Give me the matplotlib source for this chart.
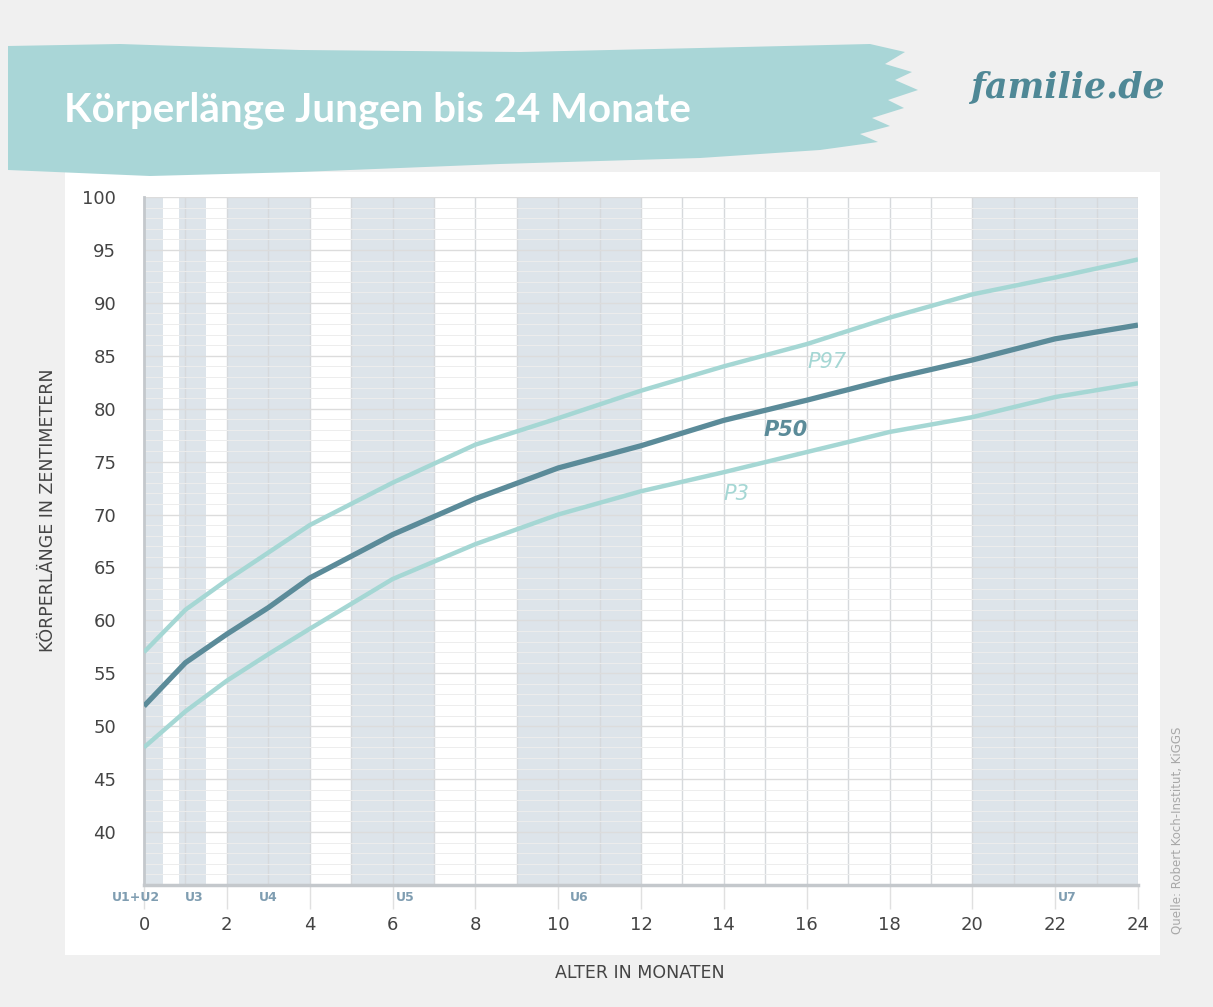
import matplotlib
matplotlib.use("Agg")
import matplotlib.pyplot as plt
from matplotlib.patches import Rectangle, Polygon

# data
months = [0, 1, 2, 3, 4, 6, 8, 10, 12, 14, 16, 18, 20, 22, 24]
p97 = [57.0, 61.0, 63.8, 66.4, 69.0, 73.0, 76.6, 79.1, 81.7, 84.0, 86.1, 88.6, 90.8, 92.4, 94.1]
p50 = [51.9, 56.0, 58.7, 61.2, 64.0, 68.1, 71.5, 74.4, 76.5, 78.9, 80.8, 82.8, 84.6, 86.6, 87.9]
p3 = [48.0, 51.4, 54.3, 56.8, 59.2, 63.9, 67.2, 70.0, 72.2, 74.0, 75.9, 77.8, 79.2, 81.1, 82.4]

# check-up (U) periods in months
u_names = ["U1+U2", "U3", "U4", "U5", "U6", "U7"]
u_start = [0, 0.85, 2, 5, 9, 20]
u_end = [0.45, 1.5, 4, 7, 12, 24]
u_label_x = [-0.2, 1.2, 3, 6.3, 10.5, 22.3]

BG = "#f0f0f0"
BAND = "#dde4ea"
LIGHT = "#a5d7d4"
DARK = "#5b8b99"
TXT = "#444444"

fig = plt.figure(figsize=(12.13, 10.07), dpi=100, facecolor=BG)
W, H = 1213, 1007

def px(x, y):
    return x / W, 1 - y / H

# white panel
x0, y1 = px(65, 172)
x1, y0 = px(1160, 955)
fig.patches.append(Rectangle((x0, y0), x1 - x0, y1 - y0, transform=fig.transFigure,
                             facecolor="white", edgecolor="none", zorder=-2))

# brush stroke behind the title
brush = [(8, 46), (120, 44), (300, 50), (520, 52), (700, 48), (870, 44), (905, 52), (885, 64),
         (912, 72), (895, 80), (918, 90), (888, 100), (904, 108), (872, 118), (890, 126),
         (860, 134), (878, 142), (820, 150), (700, 158), (500, 164), (300, 172),
         (150, 176), (8, 170)]
fig.patches.append(Polygon([px(a, b) for a, b in brush], closed=True, transform=fig.transFigure,
                           facecolor="#a9d6d7", edgecolor="none", zorder=-1))
fig.text(*px(64, 110), "Körperlänge Jungen bis 24 Monate", color="white", fontsize=29,
         fontweight="bold", family="Lato", va="center", ha="left")
fig.text(*px(1067, 88), "familie.de", color="#4f8896", fontsize=25, fontweight="bold",
         style="italic", family="DejaVu Serif", va="center", ha="center")

ax = fig.add_axes([144 / W, 1 - 885 / H, (1138 - 144) / W, (885 - 197) / H])
ax.set_zorder(2)
ax.set_facecolor("none")
ax.set_xlim(0, 24)
ax.set_ylim(35, 100)

for s, e in zip(u_start, u_end):
    ax.axvspan(s, e, color=BAND, lw=0, zorder=0)

for m in range(1, 25):
    ax.axvline(m, color="#d6d9dc", lw=1, zorder=1)
for v in range(35, 101):
    c = "#dcdcdc" if v % 5 == 0 else "#ededed"
    ax.axhline(v, color=c, lw=1 if v % 5 == 0 else 0.7, zorder=1)

ax.plot(months, p97, color=LIGHT, lw=3.2, zorder=3, solid_capstyle="butt")
ax.plot(months, p3, color=LIGHT, lw=3.2, zorder=3, solid_capstyle="butt")
ax.plot(months, p50, color=DARK, lw=3.8, zorder=4, solid_capstyle="butt")

ax.text(16.5, 84.4, "P97", color=LIGHT, fontsize=15, style="italic", ha="center", va="center")
ax.text(15.5, 78.0, "P50", color=DARK, fontsize=15, style="italic", fontweight="bold",
        ha="center", va="center")
ax.text(14.3, 71.9, "P3", color=LIGHT, fontsize=15, style="italic", ha="center", va="center")

for sp in ["top", "right"]:
    ax.spines[sp].set_visible(False)
ax.spines["left"].set_color("#c4c8cc")
ax.spines["left"].set_linewidth(2)
ax.spines["bottom"].set_color("#c4c8cc")
ax.spines["bottom"].set_linewidth(2.5)

ax.set_yticks(range(40, 101, 5))
ax.tick_params(axis="y", length=0, pad=20, labelsize=13, labelcolor=TXT)
ax.set_xticks(range(0, 25, 2))
ax.tick_params(axis="x", length=17, width=1, color="#e0e0e0", pad=5, labelsize=13, labelcolor=TXT)

for name, lx in zip(u_names, u_label_x):
    ax.text(lx, 33.8, name, color="#7f9db1", fontsize=9, fontweight="bold",
            ha="center", va="center", clip_on=False)

fig.text(*px(48, 510), "KÖRPERLÄNGE IN ZENTIMETERN", rotation=90, color=TXT, fontsize=12.5,
         ha="center", va="center")
fig.text(*px(640, 973), "ALTER IN MONATEN", color=TXT, fontsize=12.5, ha="center", va="center")
fig.text(*px(1177, 830), "Quelle: Robert Koch-Institut, KiGGS", rotation=90, color="#a8a8a8",
         fontsize=8.5, ha="center", va="center")

fig.savefig("out.png", dpi=100, facecolor=BG)
